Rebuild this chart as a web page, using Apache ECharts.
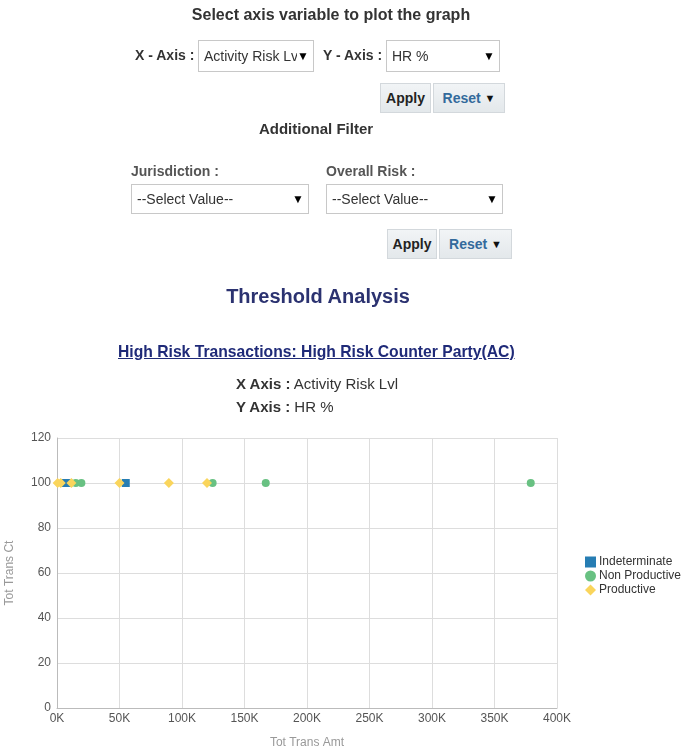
<!DOCTYPE html>
<html>
<head>
<meta charset="utf-8">
<script src="https://cdn.jsdelivr.net/npm/echarts@6/dist/echarts.min.js"></script>
<style>
  html, body { margin:0; padding:0; background:#fff; width:682px; height:755px; overflow:hidden;
    font-family: "Liberation Sans", Arial, sans-serif; }
  #chart { position:absolute; left:0; top:0; width:682px; height:755px; }
  .abs { position:absolute; white-space:nowrap; }
  .b { font-weight:bold; color:#333; }
  .sel { position:absolute; border:1px solid #c8c8c8; background:#fff; box-sizing:border-box;
    font-size:14px; color:#333; padding-left:5px; display:flex; align-items:center; }
  .sel .txt { display:inline-block; overflow:hidden; white-space:nowrap; }
  .sel .arr { position:absolute; right:4px; font-size:12px; color:#000; }
  .btn { position:absolute; box-sizing:border-box; border:1px solid #d3d8dc; background:linear-gradient(#f1f4f6,#e3e8eb);
    font-size:14px; font-weight:bold; display:flex; align-items:center; justify-content:center; }
</style>
</head>
<body>
<div id="chart"></div>

<div class="abs b" style="left:0;width:662px;text-align:center;top:6px;font-size:16px;">Select axis variable to plot the graph</div>

<div class="abs b" style="left:135px;top:47px;font-size:14px;">X - Axis :</div>
<div class="sel" style="left:198px;top:40px;width:116px;height:32px;"><span class="txt" style="width:93px;">Activity Risk Lvl</span><span class="arr">&#9660;</span></div>
<div class="abs b" style="left:323px;top:47px;font-size:14px;">Y - Axis :</div>
<div class="sel" style="left:386px;top:40px;width:114px;height:32px;"><span class="txt">HR %</span><span class="arr">&#9660;</span></div>
<div class="btn" style="left:380px;top:83px;width:51px;height:30px;color:#222;">Apply</div>
<div class="btn" style="left:433px;top:83px;width:72px;height:30px;color:#336a9c;">Reset&nbsp;<span style="color:#111;font-size:11px;">&#9660;</span></div>

<div class="abs b" style="left:0;width:632px;text-align:center;top:120px;font-size:15px;">Additional Filter</div>

<div class="abs b" style="left:131px;top:163px;font-size:14px;color:#555;">Jurisdiction :</div>
<div class="sel" style="left:131px;top:184px;width:178px;height:30px;"><span class="txt">--Select Value--</span><span class="arr">&#9660;</span></div>
<div class="abs b" style="left:326px;top:163px;font-size:14px;color:#555;">Overall Risk :</div>
<div class="sel" style="left:326px;top:184px;width:177px;height:30px;"><span class="txt">--Select Value--</span><span class="arr">&#9660;</span></div>
<div class="btn" style="left:387px;top:229px;width:50px;height:30px;color:#222;">Apply</div>
<div class="btn" style="left:439px;top:229px;width:73px;height:30px;color:#336a9c;">Reset&nbsp;<span style="color:#111;font-size:11px;">&#9660;</span></div>

<div class="abs" style="left:0;width:636px;text-align:center;top:285px;font-size:20px;font-weight:bold;color:#2b3270;">Threshold Analysis</div>
<div class="abs" style="left:118px;top:343px;font-size:15.7px;font-weight:bold;color:#1f2a78;text-decoration:underline;">High Risk Transactions: High Risk Counter Party(AC)</div>
<div class="abs" style="left:236px;top:375px;font-size:15px;color:#333;"><b>X Axis :</b> Activity Risk Lvl</div>
<div class="abs" style="left:236px;top:398px;font-size:15px;color:#333;"><b>Y Axis :</b> HR %</div>

<script>
// Data (x = Tot Trans Amt, y = Tot Trans Ct)
const indeterminateX = [6000, 9000, 55000];
const indeterminateY = [100, 100, 100];
const nonProductiveX = [15000, 19500, 124500, 167000, 379000];
const nonProductiveY = [100, 100, 100, 100, 100];
const productiveX = [500, 3000, 11500, 50000, 89500, 120000];
const productiveY = [100, 100, 100, 100, 100, 100];
const seriesNames = ['Indeterminate', 'Non Productive', 'Productive'];
const xTicks = [0, 50000, 100000, 150000, 200000, 250000, 300000, 350000, 400000];
const yTicks = [0, 20, 40, 60, 80, 100, 120];

function pairs(xs, ys) { return xs.map((x, i) => [x, ys[i]]); }

const chart = echarts.init(document.getElementById('chart'), null, { renderer: 'canvas' });
chart.setOption({
  animation: false,
  textStyle: { fontFamily: '"Liberation Sans", Arial, sans-serif' },
  grid: { left: 57, top: 438, right: 125, bottom: 47, containLabel: false, outerBoundsMode: 'none' },
  legend: {
    orient: 'vertical', left: 580, top: 551, itemGap: 2, itemWidth: 11, itemHeight: 11,
    textStyle: { fontSize: 12, color: '#333', padding: [0,0,0,-2] },
    data: [
      { name: seriesNames[0], icon: 'rect' },
      { name: seriesNames[1], icon: 'circle' },
      { name: seriesNames[2], icon: 'diamond' }
    ]
  },
  xAxis: {
    type: 'value', min: xTicks[0], max: xTicks[xTicks.length - 1], interval: 50000,
    name: 'Tot Trans Amt', nameLocation: 'middle', nameGap: 29,
    nameTextStyle: { fontSize: 12, color: '#999' },
    axisLine: { show: true, lineStyle: { color: '#bbb', width: 1 } },
    axisTick: { show: false },
    axisLabel: { fontSize: 12, color: '#555', margin: 5, formatter: v => (v / 1000) + 'K' },
    splitLine: { show: true, lineStyle: { color: '#ddd' } }
  },
  yAxis: {
    type: 'value', min: yTicks[0], max: yTicks[yTicks.length - 1], interval: 20,
    name: 'Tot Trans Ct', nameLocation: 'middle', nameGap: 41, nameRotate: 90,
    nameTextStyle: { fontSize: 12, color: '#999' },
    axisLine: { show: true, lineStyle: { color: '#bbb', width: 1 } },
    axisTick: { show: false },
    axisLabel: { fontSize: 12, color: '#555', margin: 6 },
    splitLine: { show: true, lineStyle: { color: '#ddd' } }
  },
  series: [
    { name: seriesNames[0], type: 'scatter', symbol: 'rect', symbolSize: 8,
      itemStyle: { color: '#267db3', opacity: 1 }, data: pairs(indeterminateX, indeterminateY), z: 3 },
    { name: seriesNames[1], type: 'scatter', symbol: 'circle', symbolSize: 8,
      itemStyle: { color: '#68c182', opacity: 1 }, data: pairs(nonProductiveX, nonProductiveY), z: 2 },
    { name: seriesNames[2], type: 'scatter', symbol: 'diamond', symbolSize: 10,
      itemStyle: { color: '#fad55c', opacity: 1 }, data: pairs(productiveX, productiveY), z: 4 }
  ]
});
</script>
</body>
</html>
